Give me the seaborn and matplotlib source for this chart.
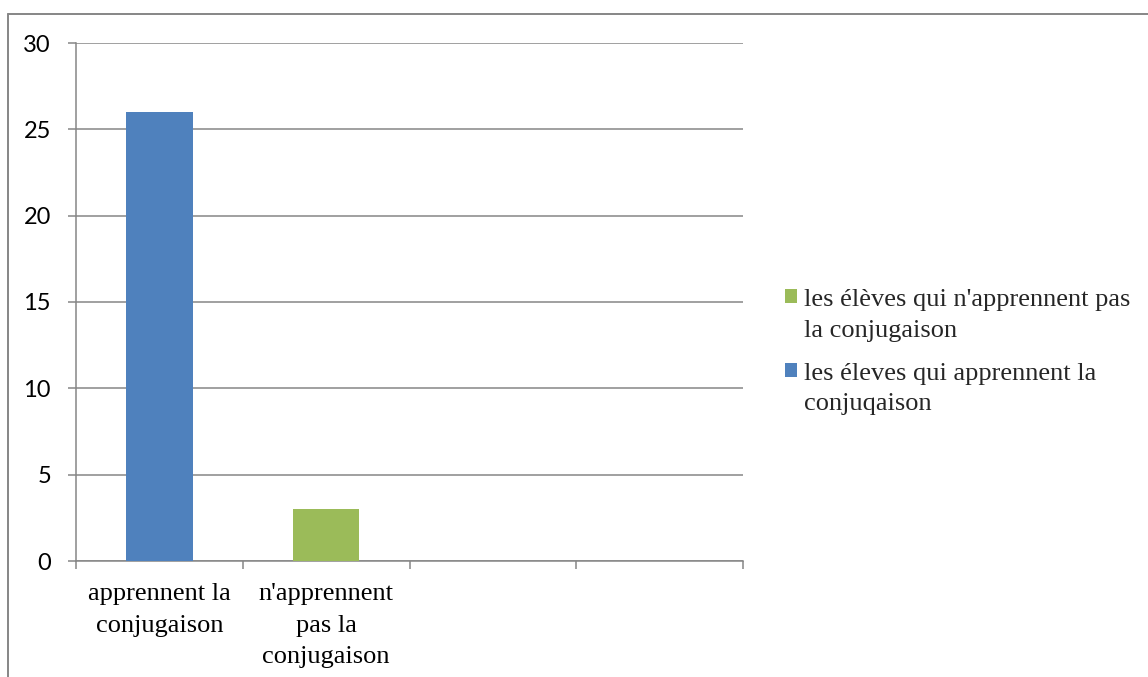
import matplotlib
matplotlib.use("Agg")
import matplotlib.pyplot as plt
import seaborn as sns
import pandas as pd
from matplotlib.patches import Patch, Rectangle
from matplotlib.lines import Line2D
from matplotlib.legend_handler import HandlerPatch

# ---- data ----
categories = ["apprennent la\nconjugaison", "n'apprennent\npas la\nconjugaison"]
values = [26, 3]
series = ["les éleves qui apprennent la\nconjuqaison",
          "les élèves qui n'apprennent pas\nla conjugaison"]
colors = ["#4F81BD", "#9BBB59"]
y_ticks = [0, 5, 10, 15, 20, 25, 30]
n_slots = 4

df = pd.DataFrame({"category": categories, "value": values, "series": series})

sns.set_theme(style="white")
plt.rcParams["font.family"] = ["Lato", "DejaVu Sans"]

fig = plt.figure(figsize=(11.48, 6.77), dpi=100)
ax = fig.add_axes([76/1148, 1-561/677, (743-76)/1148, (561-43)/677])

sns.barplot(data=df, x="category", y="value", hue="series", order=categories,
            hue_order=series, palette=colors, dodge=False, width=0.4,
            saturation=1, ax=ax, legend=False, zorder=3,
            edgecolor="none", linewidth=0)

ax.set_xlim(-0.5, n_slots - 0.5)
ax.set_ylim(0, 30)
ax.set_yticks(y_ticks)
ax.set_yticklabels([str(t) for t in y_ticks])
ax.yaxis.grid(True, color="#868686", linewidth=1.1, zorder=0)
ax.set_axisbelow(True)

# category boundaries as major ticks, labels at centres as minor ticks
ax.set_xticks([i - 0.5 for i in range(n_slots + 1)])
ax.set_xticklabels([])
ax.set_xticks(list(range(len(categories))), minor=True)
ax.set_xticklabels(categories, minor=True, fontfamily="Liberation Serif",
                   fontsize=19, color="black", linespacing=1.55)
ax.tick_params(axis="x", which="minor", length=0, pad=16)
ax.tick_params(axis="x", which="major", length=6, width=1.1, color="#868686",
               direction="out", bottom=True)
ax.tick_params(axis="y", length=6, width=1.1, color="#868686", direction="out",
               left=True, pad=12, labelsize=17, labelcolor="black")
ax.set_xlabel("")
ax.set_ylabel("")

for side in ["top", "right"]:
    ax.spines[side].set_visible(False)
for side in ["left", "bottom"]:
    ax.spines[side].set_visible(True)
    ax.spines[side].set_color("#868686")
    ax.spines[side].set_linewidth(1.1)


class FirstLineSquare(HandlerPatch):
    """Square legend key aligned with the first line of a two-line label."""
    def __init__(self, dy=0.0, **kw):
        super().__init__(**kw)
        self.dy = dy

    def create_artists(self, legend, orig_handle, xdescent, ydescent,
                       width, height, fontsize, trans):
        p = Rectangle((-xdescent, -ydescent + self.dy * fontsize), width, height)
        self.update_prop(p, orig_handle, legend)
        p.set_transform(trans)
        return [p]


# legend (green first)
handles = [Patch(facecolor=colors[1], edgecolor="none", label=series[1]),
           Patch(facecolor=colors[0], edgecolor="none", label=series[0])]
hmap = {h: FirstLineSquare(dy=0.68) for h in handles}
leg = fig.legend(handles=handles, loc="upper left", handler_map=hmap,
                 bbox_to_anchor=(785/1148, 1-289/677), frameon=False,
                 prop={"family": "Liberation Serif", "size": 19},
                 handlelength=0.45, handleheight=0.45, handletextpad=0.27,
                 labelspacing=0.8, borderaxespad=0, borderpad=0)
for t in leg.get_texts():
    t.set_linespacing(1.5)

# chart outer border (clipped on right and bottom)
fig.add_artist(Line2D([8/1148, 1.0], [1-14/677, 1-14/677],
                      transform=fig.transFigure, color="#868686", lw=1.4))
fig.add_artist(Line2D([8/1148, 8/1148], [1-14/677, 0.0],
                      transform=fig.transFigure, color="#868686", lw=1.4))

fig.savefig("out.png", dpi=100, facecolor="white")
